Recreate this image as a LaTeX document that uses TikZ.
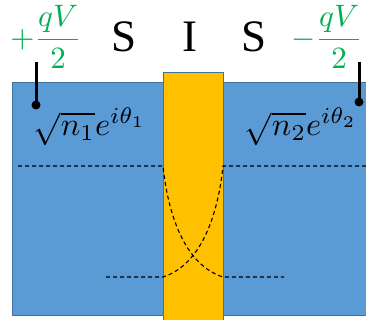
\documentclass[tikz,border=0pt]{standalone}
\usepackage{fontspec}
\usepackage{graphicx}
\setmainfont{Liberation Serif}
\definecolor{sblue}{RGB}{91,155,213}
\definecolor{sedge}{RGB}{65,113,156}
\definecolor{iyellow}{RGB}{255,192,0}
\definecolor{vgreen}{RGB}{0,176,80}
\tikzset{
  slab/.style={fill=sblue, draw=sedge, line width=0.6pt},
  barrier/.style={fill=iyellow, draw=sedge, line width=0.6pt},
  wave/.style={dashed, dash pattern=on 4pt off 3pt, line width=1.1pt, black},
  lead/.style={line width=3pt, black},
  letter/.style={font=\fontsize{45}{50}\selectfont, anchor=base, inner sep=0pt},
  volt/.style={text=vgreen, inner sep=0pt},
  phase/.style={inner sep=0pt}
}
\begin{document}
\begin{tikzpicture}[x=1pt,y=-1pt]
\useasboundingbox (0,0) rectangle (366,320);
% slabs
\path[slab] (12,82) rectangle (163,315);
\path[slab] (223,82) rectangle (366,315);
\path[barrier] (163,72) rectangle (223,320);
% wavefunction lines
\draw[wave] (18,166) -- (163,166) .. controls (168,215) and (185,265) .. (223,277) -- (284,277);
\draw[wave] (366,166) -- (223,166) .. controls (218,215) and (201,265) .. (163,277) -- (106,277);
% letters
\node[letter] (s1) at (124,52) {S};
\node[letter] (ii) at (190,52) {I};
\node[letter] (s2) at (254,52) {S};
% voltages
\node[volt] (vp) at (46,37) {\scalebox{3.1}{$\displaystyle +\frac{qV}{2}$}};
\node[volt] (vm) at (327,37) {\scalebox{3.1}{$\displaystyle -\frac{qV}{2}$}};
% leads
\coordinate (d1) at (36,105);
\coordinate (d2) at (359,102);
\draw[lead] (36,62) -- (d1);
\fill (d1) circle (4.5);
\draw[lead] (359,62) -- (d2);
\fill (d2) circle (4.5);
% phases
\node[phase] (p1) at (90,127) {\scalebox{3.25}{$\sqrt{n_1}e^{i\theta_1}$}};
\node[phase] (p2) at (301,127) {\scalebox{3.25}{$\sqrt{n_2}e^{i\theta_2}$}};
\end{tikzpicture}
\end{document}
